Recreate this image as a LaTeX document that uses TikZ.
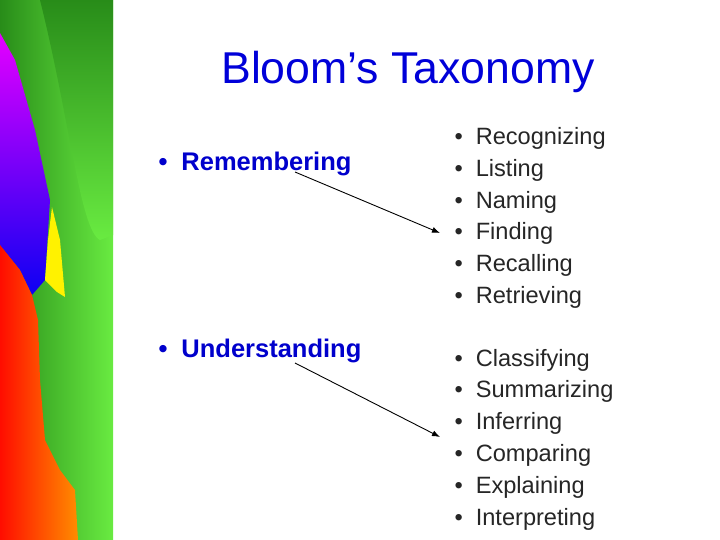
\documentclass[tikz,border=0pt]{standalone}
\usepackage{fontspec}
\setmainfont{Liberation Sans}
\usetikzlibrary{arrows.meta}
\definecolor{gdark}{RGB}{40,140,25}
\definecolor{glight}{RGB}{105,235,65}
\begin{document}
\begin{tikzpicture}[x=1pt,y=-1pt,
  lbl/.style={font=\fontsize{25.5}{28}\selectfont\bfseries,text=blue!80!black,anchor=base west},
  itm/.style={font=\fontsize{23.6}{26}\selectfont,text=black!85,anchor=base west},
  arr/.style={-{Latex[length=8pt,width=6pt]},line width=0.9pt,black}]
\useasboundingbox (0,0) rectangle (720,540);
\fill[white] (0,0) rectangle (720,540);
% decorative strip
\shade[left color=gdark,right color=glight] (0,0) rectangle (113,540);
\shade[top color=gdark,bottom color=glight] (40,0) .. controls (70,120) and (80,230) .. (100,240) -- (113,235) -- (113,0) -- cycle;
\shade[top color=magenta!90!blue,bottom color=blue!90!violet] (0,33) -- (15,60) -- (35,130) -- (50,200) -- (45,280) -- (32,295) -- (20,270) -- (0,245) -- cycle;
\fill[yellow] (52,207) -- (60,240) -- (65,297) -- (57,292) -- (45,280) -- (48,240) -- cycle;
\shade[left color=red!90!orange,right color=orange!90!yellow] (0,245) -- (20,270) -- (32,295) -- (38,320) -- (40,380) -- (45,440) -- (60,470) -- (75,490) -- (78,540) -- (0,540) -- cycle;
% title
\node[font=\fontsize{44.6}{48}\selectfont,text=blue!85!black] (title) at (408,72) {Bloom’s Taxonomy};
% left labels
\node[lbl] (rem) at (155,171) {•\hspace{14pt}Remembering};
\node[lbl] (und) at (155,357) {•\hspace{14pt}Understanding};
% right lists
\foreach \t [count=\i] in {Recognizing,Listing,Naming,Finding,Recalling,Retrieving}{
  \node[itm] (r\i) at (451,{145+31.6*(\i-1)}) {•\hspace{13pt}\t};}
\foreach \t [count=\i] in {Classifying,Summarizing,Inferring,Comparing,Explaining,Interpreting}{
  \node[itm] (u\i) at (451,{366+31.8*(\i-1)}) {•\hspace{13pt}\t};}
\coordinate (a1) at (295,172);
\coordinate (e1) at (440,233);
\coordinate (a2) at (295,363);
\coordinate (e2) at (440,437);
\draw[arr] (a1) -- (e1);
\draw[arr] (a2) -- (e2);
\end{tikzpicture}
\end{document}
